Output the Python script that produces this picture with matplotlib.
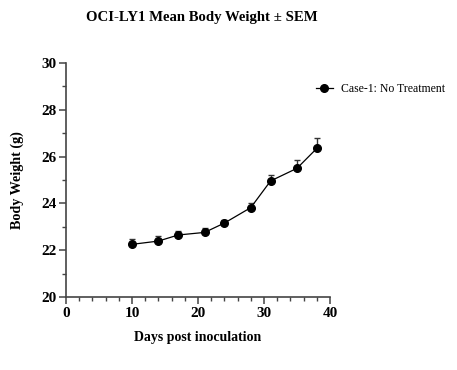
import matplotlib
matplotlib.use("Agg")
import matplotlib.pyplot as plt
from matplotlib.ticker import MultipleLocator

days = [10, 14, 17, 21, 24, 28, 31, 35, 38]
mean_weight = [22.25, 22.39, 22.65, 22.76, 23.16, 23.82, 24.96, 25.5, 26.35]
sem = [0.23, 0.21, 0.16, 0.2, 0.14, 0.18, 0.24, 0.35, 0.45]
series_label = "Case-1: No Treatment"
title = "OCI-LY1 Mean Body Weight ± SEM"
xlabel = "Days post inoculation"
ylabel = "Body Weight (g)"

plt.rcParams['font.family'] = ['Liberation Serif', 'DejaVu Serif']

fig = plt.figure(figsize=(4.57, 3.70), dpi=100)
ax = fig.add_axes([66/457, 1-297/370, (330-66)/457, (297-63)/370])

ax.errorbar(days, mean_weight, yerr=[[0]*len(sem), sem], fmt='none',
            ecolor='#333333', elinewidth=1.0, capsize=2.5, capthick=1.0)
ax.plot(days, mean_weight, 'o-', color='black', markersize=5.5, linewidth=0.9,
        label=series_label)

ax.set_xlim(0, 40)
ax.set_ylim(20, 30)
ax.xaxis.set_major_locator(MultipleLocator(10))
ax.xaxis.set_minor_locator(MultipleLocator(2))
ax.yaxis.set_major_locator(MultipleLocator(2))
ax.yaxis.set_minor_locator(MultipleLocator(1))

for s in ['top', 'right']:
    ax.spines[s].set_visible(False)
for s in ['left', 'bottom']:
    ax.spines[s].set_linewidth(1.2)
    ax.spines[s].set_color('#444444')

ax.tick_params(axis='both', which='major', length=5, width=1.1, color='#444444',
               labelsize=11, pad=2)
ax.tick_params(axis='both', which='minor', length=3, width=1.0, color='#444444')
for lab in ax.get_xticklabels() + ax.get_yticklabels():
    lab.set_fontweight('bold')

ax.set_xlabel(xlabel, fontsize=10, fontweight='bold', labelpad=8)
ax.set_ylabel(ylabel, fontsize=10.2, fontweight='bold', labelpad=12)
fig.text(202/457, 1-17/370, title, ha='center', va='center', fontsize=10.6, fontweight='bold')

ax.legend(loc='center left', bbox_to_anchor=(316/457, 1-89/370), bbox_transform=fig.transFigure,
          frameon=False, fontsize=8.5, handlelength=1.4, handletextpad=0.7, borderaxespad=0,
          borderpad=0)

fig.savefig("out.png", dpi=100)
